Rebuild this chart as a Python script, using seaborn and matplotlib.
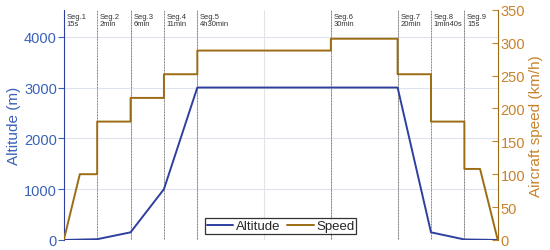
import numpy as np
import pandas as pd
import matplotlib
matplotlib.use("Agg")
import matplotlib.pyplot as plt
import seaborn as sns

# flight profile, x in segment units
alt_x = [0, 1, 2, 3, 4, 8, 10, 11, 12, 13]
alt_y = [0, 15, 150, 1000, 3000, 3000, 3000, 150, 10, 0]

spd_x = [0, 0.48, 1, 1, 2, 2, 3, 3, 4, 4, 8, 8, 10, 10, 11, 11, 12, 12, 12.47, 13]
spd_y = [0, 100, 100, 180, 180, 216, 216, 252, 252, 288, 288, 306, 306, 252, 252, 180, 180, 108, 108, 0]

seg_start = [0, 1, 2, 3, 4, 8, 10, 11, 12]
seg_names = ["Seg.1", "Seg.2", "Seg.3", "Seg.4", "Seg.5", "Seg.6", "Seg.7", "Seg.8", "Seg.9"]
seg_times = ["15s", "2min", "6min", "11min", "4h30min", "30min", "20min", "1min40s", "15s"]
seg_lines = [1, 2, 3, 4, 8, 10, 11, 12]

alt_df = pd.DataFrame({"x": alt_x, "Altitude": alt_y})
spd_df = pd.DataFrame({"x": spd_x, "Speed": spd_y})

sns.set_style("white")
plt.rcParams['font.family'] = ['Liberation Sans', 'DejaVu Sans']

blue_line = '#2e3f9e'
blue_txt = '#3a62b8'
brown_line = '#9c6c14'
brown_txt = '#c8822c'

fig, ax = plt.subplots(figsize=(5.5, 2.51), dpi=100)
fig.subplots_adjust(left=0.116, right=0.905, top=0.957, bottom=0.04)
ax2 = ax.twinx()

# light grid
for y in [0, 1000, 2000, 3000, 4000]:
    ax.axhline(y, color='#dde3f0', lw=0.8, zorder=0)
for x in [2, 4, 6, 8, 10, 12]:
    ax.axvline(x, color='#e4e4e4', lw=0.8, zorder=0)
for x in seg_lines:
    ax.axvline(x, color='#777777', lw=0.7, ls=(0, (1, 0.6)), zorder=1)

sns.lineplot(data=alt_df, x="x", y="Altitude", ax=ax, color=blue_line, lw=1.4,
             sort=False, estimator=None, label="Altitude", legend=False)
sns.lineplot(data=spd_df, x="x", y="Speed", ax=ax2, color=brown_line, lw=1.4,
             sort=False, estimator=None, label="Speed", legend=False)

for xs, n, t in zip(seg_start, seg_names, seg_times):
    ax.text(xs + 0.08, 4460, n + "\n" + t, fontsize=5.5, color='#333333',
            va='top', ha='left', linespacing=0.9)

ax.set_xlim(0, 13)
ax.set_ylim(0, 4530)
ax2.set_ylim(0, 350)
ax.set_xticks([])
ax.set_yticks([0, 1000, 2000, 3000, 4000])
ax2.set_yticks([0, 50, 100, 150, 200, 250, 300, 350])
ax.set_xlabel("")
ax.set_ylabel("Altitude (m)", color=blue_txt, fontsize=11, labelpad=2)
ax2.set_ylabel("Aircraft speed (km/h)", color=brown_txt, fontsize=11, labelpad=3)
ax.tick_params(axis='y', colors=blue_txt, labelsize=10.5, direction='out',
               length=4, width=0.8, pad=1, left=True)
ax2.tick_params(axis='y', colors=brown_txt, labelsize=10.5, direction='in',
                length=4, width=0.8, pad=2, right=True)

for a in (ax, ax2):
    for s in ['top', 'bottom', 'left', 'right']:
        a.spines[s].set_visible(False)
ax.spines['left'].set_visible(True)
ax.spines['left'].set_color(blue_line)
ax2.spines['right'].set_visible(True)
ax2.spines['right'].set_color(brown_line)

h1, l1 = ax.get_legend_handles_labels()
h2, l2 = ax2.get_legend_handles_labels()
leg = ax2.legend(h1 + h2, l1 + l2, ncol=2, loc='lower center',
                 bbox_to_anchor=(0.5, 0.025), fontsize=9.5, frameon=True,
                 fancybox=False, borderpad=0.15, handlelength=2.0,
                 handletextpad=0.2, columnspacing=0.5, borderaxespad=0)
leg.get_frame().set_edgecolor('black')
leg.get_frame().set_linewidth(0.9)

plt.savefig("out.png", dpi=100)
